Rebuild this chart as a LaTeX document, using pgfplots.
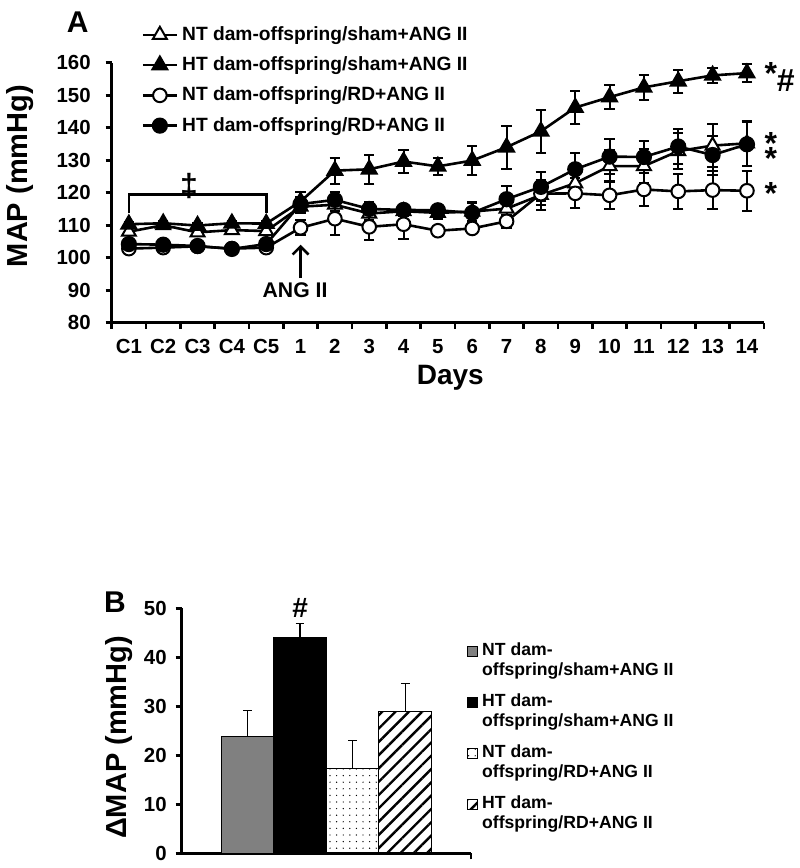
\documentclass[border=0pt]{standalone}
\usepackage{fontspec}
\setmainfont{Liberation Sans}
\usepackage{pgfplots}
\pgfplotsset{compat=1.18}
\usepackage{pgfplotstable}
\usetikzlibrary{patterns.meta,arrows.meta}

% columns: category index, MAP, SEM
\pgfplotstableread{
x y e
0 108.0 1.0
1 110.0 0.8
2 107.8 1.0
3 108.5 1.0
4 108.2 1.2
5 115.7 2.0
6 116.3 2.0
7 113.6 2.0
8 114.3 1.5
9 113.8 2.0
10 114.2 3.0
11 115.1 2.2
12 119.3 4.5
13 122.9 4.5
14 128.2 4.8
15 128.2 5.2
16 132.8 5.5
17 134.5 6.5
18 135.2 7.0
}\ntsham
\pgfplotstableread{
x y e
0 110.3 0.8
1 110.6 0.8
2 109.9 0.8
3 110.6 0.8
4 110.5 0.8
5 117.3 3.0
6 126.8 4.0
7 127.2 4.5
8 129.6 3.4
9 128.1 2.6
10 129.9 4.4
11 134.0 6.6
12 138.9 6.7
13 146.2 5.0
14 149.4 3.6
15 152.4 3.8
16 154.3 3.6
17 156.1 2.2
18 156.8 2.8
}\htsham
\pgfplotstableread{
x y e
0 102.8 0.8
1 103.1 0.8
2 103.5 0.8
3 102.8 0.8
4 103.1 0.8
5 109.2 2.3
6 112.0 5.0
7 109.5 4.2
8 110.3 4.5
9 108.3 1.5
10 109.0 1.5
11 111.2 2.0
12 119.7 3.5
13 119.8 4.6
14 119.2 4.3
15 121.0 5.0
16 120.4 5.5
17 120.8 5.8
18 120.6 6.2
}\ntrd
\pgfplotstableread{
x y e
0 104.2 0.8
1 104.0 0.8
2 103.6 0.8
3 102.7 0.8
4 104.2 1.0
5 116.5 2.2
6 117.8 2.5
7 115.0 2.2
8 114.7 1.5
9 114.6 1.5
10 113.8 3.0
11 118.0 4.0
12 121.8 4.5
13 127.2 5.0
14 131.1 5.4
15 131.0 5.0
16 134.2 5.3
17 131.6 6.0
18 134.9 6.8
}\htrd

\pgfplotsset{
  errs/.style={error bars/.cd, y dir=both, y explicit,
    error bar style={line width=1bp, black},
    error mark options={rotate=90, mark size=2.6bp, line width=1bp, black}},
  berr/.style={error bars/.cd, y dir=plus, y explicit,
    error bar style={line width=0.7bp, black},
    error mark options={rotate=90, mark size=2.2bp, line width=0.7bp, black}},
  sq/.style={legend image code/.code={\draw[##1] (0bp,2bp) rectangle (5bp,7bp);}},
}
\newcommand\annfont{\bfseries\fontsize{16bp}{17bp}\selectfont}

\begin{document}
\begin{tikzpicture}
\bfseries
% ---------- panel A ----------
\begin{axis}[
  scale only axis, width=326.2bp, height=130bp,
  at={(55.85bp,-161.35bp)}, anchor=south west,
  xmin=-0.5, xmax=18.5, ymin=80, ymax=160,
  axis x line*=bottom, axis y line*=left,
  axis line style={line width=1.5bp, black},
  xtick={0,...,18},
  xticklabels={C1,C2,C3,C4,C5,1,2,3,4,5,6,7,8,9,10,11,12,13,14},
  minor xtick={-0.5,0.5,...,18.5},
  ytick={80,90,...,160},
  tick align=outside, major tick length=3bp, minor tick length=3bp,
  major x tick style={draw=none},
  minor x tick style={line width=1.3bp, black},
  y tick style={line width=1.3bp, black},
  /pgf/number format/assume math mode=true,
  tick label style={font=\bfseries\fontsize{10.2bp}{11bp}\selectfont},
  xticklabel style={yshift=-2bp},
  yticklabel style={xshift=-4bp},
  ylabel={MAP (mmHg)},
  ylabel style={at={(axis description cs:-0.141,0.564)}, anchor=center,
    font=\bfseries\fontsize{14.5bp}{16bp}\selectfont},
  xlabel={Days},
  xlabel style={at={(axis description cs:0.519,-0.213)}, anchor=center,
    font=\bfseries\fontsize{14bp}{16bp}\selectfont},
  clip=false,
  legend style={at={(axis description cs:0.036,1.172)}, anchor=north west,
    draw=none, fill=none, row sep=2.7bp,
    font=\bfseries\fontsize{9.6bp}{11bp}\selectfont},
  legend cell align=left,
]
\addplot[black, line width=1.3bp, mark=triangle*, mark size=4bp,
  mark options={fill=white, line width=1bp}, errs]
  table[x=x, y=y, y error=e] {\ntsham};
\addplot[black, line width=1.3bp, mark=triangle*, mark size=4bp,
  mark options={fill=black}, errs]
  table[x=x, y=y, y error=e] {\htsham};
\addplot[black, line width=1.3bp, mark=*, mark size=3.4bp,
  mark options={fill=white, line width=1bp}, errs]
  table[x=x, y=y, y error=e] {\ntrd};
\addplot[black, line width=1.3bp, mark=*, mark size=3.4bp,
  mark options={fill=black}, errs]
  table[x=x, y=y, y error=e] {\htrd};
\legend{NT dam-offspring/sham+ANG II, HT dam-offspring/sham+ANG II,
  NT dam-offspring/RD+ANG II, HT dam-offspring/RD+ANG II}

\draw[line width=1.3bp] (axis cs:0,113.7) -- (axis cs:0,119.5)
  -- (axis cs:4,119.5) -- (axis cs:4,113.7);
\node[font=\annfont] at (axis cs:1.75,122.2) {‡};
\draw[line width=1.3bp, -{Straight Barb[length=4bp, width=8bp]}]
  (axis cs:5,93.7) -- (axis cs:5,104);
\node[font=\bfseries\fontsize{10.6bp}{12bp}\selectfont] at (axis cs:4.84,90.1) {ANG II};
\node[font=\annfont, anchor=west, inner sep=0pt]
  at (axis cs:18.5,155.6) {*\raisebox{-3.5bp}{\#}};
% two stacked stars for the RD / sham NT curves
\node[font=\annfont, anchor=base west, inner sep=0pt]
  at (axis cs:18.5,127.0)
  {\vbox{\baselineskip=7.5bp\lineskiplimit=-100bp\hbox{*}\hbox{*}}};
\node[font=\annfont, anchor=west, inner sep=0pt]
  at (axis cs:18.5,119.9) {*};
\end{axis}

% ---------- panel B ----------
\begin{axis}[
  scale only axis, width=144.65bp, height=122.5bp,
  at={(90.85bp,-426.65bp)}, anchor=south west,
  xmin=-0.25, xmax=5.25, ymin=0, ymax=50,
  axis x line*=bottom, axis y line*=left,
  axis line style={line width=1.5bp, black},
  ybar, bar width=1, bar shift=0pt,
  xtick={5.25}, xticklabels={},
  ytick={0,10,...,50},
  tick align=outside, major tick length=3bp,
  tick style={line width=1.3bp, black},
  /pgf/number format/assume math mode=true,
  tick label style={font=\bfseries\fontsize{10.2bp}{11bp}\selectfont},
  yticklabel style={xshift=-1bp},
  ylabel={ΔMAP (mmHg)},
  ylabel style={at={(axis description cs:-0.218,0.473)}, anchor=center,
    font=\bfseries\fontsize{14.5bp}{16bp}\selectfont},
  clip=false,
  legend style={at={(axis description cs:0.965,0.893)}, anchor=north west,
    draw=none, fill=none, row sep=3.6bp, cells={align=left},
    font=\bfseries\fontsize{8.8bp}{10bp}\selectfont},
  legend cell align=left,
]
\addplot[fill=black!50, draw=black, line width=0.5bp, sq, berr]
  coordinates {(1,23.9) +- (0,5.3)};
\addplot[fill=black, draw=black, line width=0.5bp, sq, berr]
  coordinates {(2,44.0) +- (0,2.9)};
\addplot[pattern={Dots[distance=3.3bp, radius=0.35bp]}, draw=black, line width=0.5bp, sq, berr]
  coordinates {(3,17.3) +- (0,5.7)};
\addplot[pattern={Lines[angle=45, distance=4.7bp, line width=1.2bp]}, draw=black, line width=0.5bp, sq, berr]
  coordinates {(4,28.9) +- (0,5.8)};
\legend{NT dam-\\offspring/sham+ANG II, HT dam-\\offspring/sham+ANG II,
  NT dam-\\offspring/RD+ANG II, HT dam-\\offspring/RD+ANG II}
\node[font=\bfseries\fontsize{14bp}{15bp}\selectfont] at (axis cs:2,50) {\#};
\end{axis}

\node[font=\bfseries\fontsize{15bp}{16bp}\selectfont] at (38.85bp,-10.85bp) {A};
\node[font=\bfseries\fontsize{15bp}{16bp}\selectfont] at (57.5bp,-300.85bp) {B};

\pgfresetboundingbox
\path[use as bounding box] (0,0) rectangle (400bp,-434bp);
\end{tikzpicture}
\end{document}
